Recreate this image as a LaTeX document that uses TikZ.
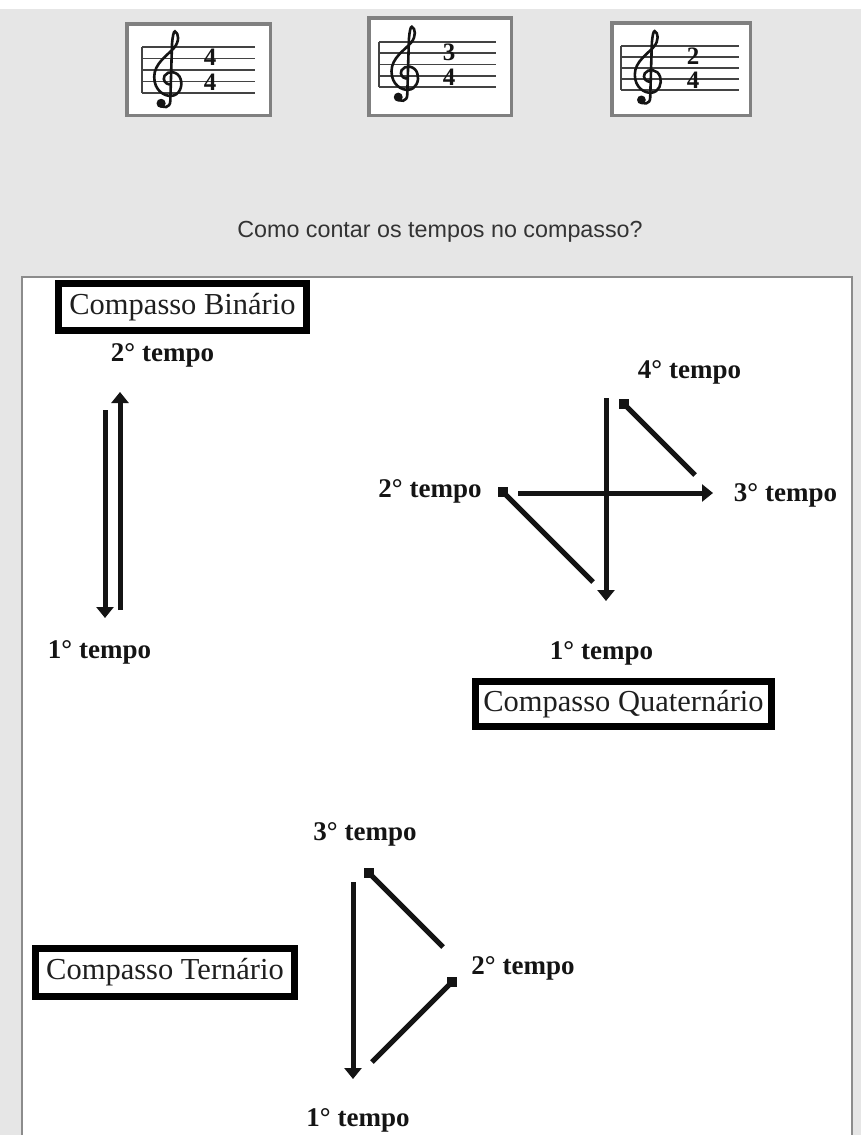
\documentclass[tikz,border=0pt]{standalone}
\usepackage{fontspec}
\setmainfont{Liberation Serif}
\newfontfamily\qsans{Liberation Sans}
\usetikzlibrary{arrows.meta}
\definecolor{bggray}{HTML}{E6E6E6}
\definecolor{panelline}{HTML}{8C8C8C}
\definecolor{tsline}{HTML}{808080}
\definecolor{qtextc}{HTML}{333333}
\definecolor{ink}{HTML}{141414}

\newcommand\gclefdraw[3]{% cx, bottom line y, staff spacing
\begin{scope}[shift={(#1,#2)},x=#3pt,y=#3pt]
 \draw[line width=2.6pt, line cap=round, ink]
  (-0.75,-0.95) .. controls (-0.45,-1.4) and (0.2,-1.3) .. (0.2,-0.7)
  -- (0.35,4.3)
  .. controls (0.4,4.9) and (0.5,5.4) .. (0.6,5.35)
  .. controls (0.95,5.2) and (1.0,4.5) .. (0.55,3.95)
  .. controls (0.0,3.3) and (-1.2,2.6) .. (-1.2,1.4)
  .. controls (-1.2,0.2) and (-0.3,-0.3) .. (0.3,-0.25)
  .. controls (1.0,-0.2) and (1.3,0.6) .. (1.1,1.2)
  .. controls (0.9,1.9) and (0.0,2.0) .. (-0.3,1.5)
  .. controls (-0.5,1.1) and (-0.2,0.8) .. (0.1,0.75);
 \fill[ink] (-0.6,-0.9) circle (0.4);
\end{scope}}

\newcommand\tsstaff[4]{% x1, x2, ytop, spacing
 \foreach \k in {0,...,4} \draw[staffl] (#1,#3+\k*#4) -- (#2,#3+\k*#4);
 \draw[staffl] (#1,#3) -- (#1,#3+4*#4);}

\begin{document}
\begin{tikzpicture}[x=1pt,y=-1pt,
  tsbox/.style={draw=tsline, line width=3.5pt, fill=white, inner sep=0pt},
  staffl/.style={line width=1.8pt, draw=ink!80},
  tsdig/.style={font=\bfseries\fontsize{25}{25}\selectfont, inner sep=0pt, text=ink},
  qtext/.style={font=\qsans\fontsize{23.3}{27}\selectfont, text=qtextc, inner sep=0pt, anchor=base},
  cbox/.style={draw=black, line width=7pt, fill=white, inner sep=0pt, text=black!88,
    font=\fontsize{30.5}{34}\selectfont},
  tempo/.style={font=\bfseries\fontsize{27}{30}\selectfont, inner sep=0pt, anchor=base, text=ink},
  arr/.style={line width=5pt, draw=ink, -{Triangle[width=17pt,length=11pt]}},
  seg/.style={line width=5pt, draw=ink},
  sq/.style={fill=ink, draw=none, minimum size=10pt, inner sep=0pt}]
\useasboundingbox (0,0) rectangle (861,1135);
% backgrounds
\fill[white] (0,0) rectangle (861,1135);
\fill[bggray] (0,9) rectangle (861,1135);
\fill[white] (22,277) rectangle (852,1135);
\draw[panelline, line width=2.2pt] (22,1136) -- (22,277) -- (852,277) -- (852,1136);

% time signature boxes
\node[tsbox, minimum width=143.5pt, minimum height=91.5pt] (ts1) at (198.5,69.5) {};
\node[tsbox, minimum width=142.5pt, minimum height=97.5pt] (ts2) at (440,66.5) {};
\node[tsbox, minimum width=138.5pt, minimum height=92.5pt] (ts3) at (681,69) {};
\tsstaff{142}{255}{47}{11.5}
\tsstaff{379}{496}{42}{11.25}
\tsstaff{621}{739}{46}{11}
\gclefdraw{168}{93}{11.5}
\gclefdraw{405}{87}{11.25}
\gclefdraw{648}{90}{11}
\node[tsdig] (ts1a) at (210,57.5) {4};
\node[tsdig] (ts1b) at (210,82.5) {4};
\node[tsdig] (ts2a) at (449,52.3) {3};
\node[tsdig] (ts2b) at (449,76.8) {4};
\node[tsdig] (ts3a) at (693,55.8) {2};
\node[tsdig] (ts3b) at (693,80.2) {4};

% question
\node[qtext] (quest) at (440,237) {Como contar os tempos no compasso?};

% Binario
\node[cbox, minimum width=248pt, minimum height=47pt] (bin) at (182.5,307) {Compasso Binário};
\node[tempo] (b2) at (162.5,361) {2° tempo};
\node[tempo] (b1) at (99.5,658) {1° tempo};
\coordinate (bd1) at (105,410);
\coordinate (bd2) at (105,618);
\coordinate (bu1) at (120,610);
\coordinate (bu2) at (120,392);
\draw[arr] (bd1) -- (bd2);
\draw[arr] (bu1) -- (bu2);

% Quaternario
\node[tempo] (q4) at (689.5,378) {4° tempo};
\node[tempo] (q2) at (430,497) {2° tempo};
\node[tempo] (q3) at (785.5,501) {3° tempo};
\node[tempo] (q1) at (601.5,659) {1° tempo};
\node[cbox, minimum width=296pt, minimum height=45pt] (quat) at (623.5,704) {Compasso Quaternário};
\coordinate (qv1) at (606,398);
\coordinate (qv2) at (606,601);
\node[sq] (qs2) at (503,492) {};
\node[sq] (qs4) at (624,404) {};
\coordinate (qh1) at (518,493);
\coordinate (qh2) at (713,493);
\coordinate (qd2) at (593,582);
\coordinate (qd4) at (695,475);
\draw[arr] (qv1) -- (qv2);
\draw[arr] (qh1) -- (qh2);
\draw[seg] (qs2.center) -- (qd2);
\draw[seg] (qs4.center) -- (qd4);

% Ternario
\node[tempo] (t3) at (365,840) {3° tempo};
\node[tempo] (t2) at (523,974) {2° tempo};
\node[tempo] (t1) at (358,1126) {1° tempo};
\node[cbox, minimum width=259pt, minimum height=48pt] (tern) at (165,972.5) {Compasso Ternário};
\coordinate (tv1) at (353,882);
\coordinate (tv2) at (353,1079);
\node[sq] (ts3q) at (369,873) {};
\node[sq] (ts2q) at (452,982) {};
\coordinate (td3) at (443,947);
\coordinate (td2) at (372,1062);
\draw[arr] (tv1) -- (tv2);
\draw[seg] (ts3q.center) -- (td3);
\draw[seg] (ts2q.center) -- (td2);
\end{tikzpicture}
\end{document}
